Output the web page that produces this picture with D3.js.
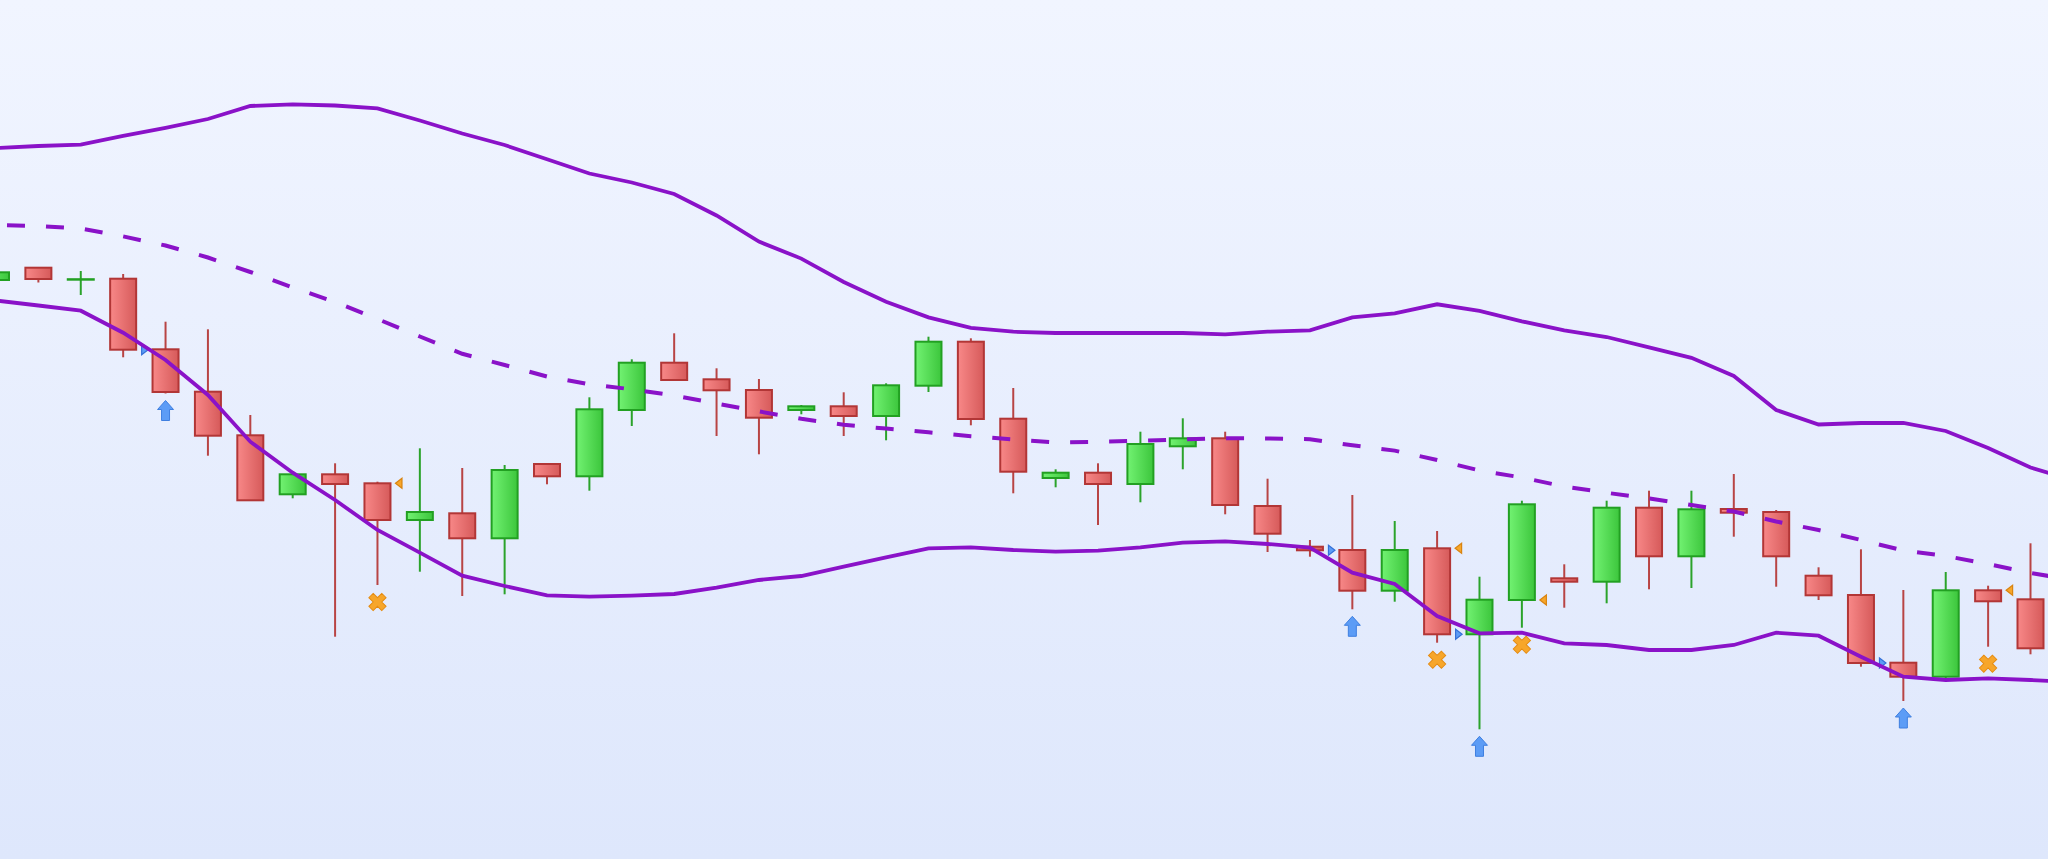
<!DOCTYPE html>
<html>
<head>
<meta charset="utf-8">
<script src="https://cdnjs.cloudflare.com/ajax/libs/d3/7.8.5/d3.min.js"></script>
<style>
    html, body { margin: 0; padding: 0; overflow: hidden; }
    svg { display: block; }
</style>
</head>
<body>
<div id="chart"></div>
<script>

            // OHLC, one entry per session
            var opens  = [122.00, 123.23, 122.04, 122.13, 115.07, 110.83, 106.47, 100.57, 102.57, 101.67,
                          98.00, 98.67, 96.17, 103.60, 102.37, 109.00, 113.73, 112.07, 111.00, 109.00,
                          109.37, 108.40, 111.43, 115.83, 108.13, 102.20, 102.73, 101.60, 105.37, 106.17,
                          99.40, 95.33, 95.00, 90.93, 95.17, 86.57, 90.00, 92.17, 91.83, 99.23,
                          94.37, 99.10, 98.80, 92.43, 90.50, 83.73, 82.33, 90.97, 90.07];
            var highs  = [122.80, 123.25, 122.90, 122.60, 117.83, 117.07, 108.50, 102.60, 103.67, 101.83,
                          105.17, 103.20, 103.50, 103.65, 110.27, 114.07, 116.67, 113.17, 112.10, 109.50,
                          110.77, 111.67, 116.33, 116.17, 111.20, 103.07, 103.67, 106.83, 108.17, 106.83,
                          102.13, 96.00, 100.50, 97.90, 96.90, 92.33, 99.93, 93.57, 99.93, 100.93,
                          100.93, 102.60, 99.00, 93.27, 95.07, 91.00, 92.80, 91.43, 95.67];
            var lows   = [121.90, 121.75, 120.50, 114.27, 110.65, 104.43, 99.90, 100.17, 86.33, 91.50,
                          92.83, 90.40, 90.57, 101.57, 100.93, 107.40, 111.95, 106.40, 104.57, 108.57,
                          106.40, 105.97, 110.80, 107.47, 100.67, 101.27, 97.50, 99.77, 103.07, 98.57,
                          94.80, 94.33, 89.07, 89.83, 85.73, 77.07, 87.23, 89.23, 89.67, 91.07,
                          91.20, 96.33, 91.33, 90.00, 83.33, 79.90, 82.00, 85.33, 84.57];
            var closes = [122.77, 122.10, 122.08, 115.03, 110.80, 106.43, 99.97, 102.57, 101.60, 98.00,
                          98.80, 96.17, 103.00, 102.37, 109.07, 113.73, 112.00, 110.97, 108.23, 109.37,
                          108.40, 111.47, 115.83, 108.10, 102.83, 102.73, 101.60, 105.60, 106.17, 99.50,
                          96.63, 94.97, 90.93, 95.00, 86.57, 90.03, 99.57, 91.83, 99.23, 94.37,
                          99.07, 98.73, 94.37, 90.47, 83.70, 82.33, 90.97, 89.87, 85.17];

            // Bollinger bands (one more point than candles, runs past the right edge)
            var upperBand  = [135.20, 135.40, 135.53, 136.42, 137.22, 138.10, 139.40, 139.57, 139.45, 139.16,
                              137.95, 136.65, 135.50, 134.07, 132.65, 131.75, 130.60, 128.45, 125.84, 124.14,
                              121.80, 119.83, 118.26, 117.22, 116.83, 116.70, 116.70, 116.70, 116.70, 116.57,
                              116.83, 116.96, 118.26, 118.66, 119.57, 118.92, 117.87, 116.96, 116.30, 115.26,
                              114.22, 112.40, 109.00, 107.55, 107.70, 107.70, 106.90, 105.20, 103.25, 102.00];
            var middleBand = [127.50, 127.40, 127.15, 126.36, 125.45, 124.25, 122.80, 121.25, 119.80, 118.10,
                              116.35, 114.62, 113.50, 112.35, 111.57, 111.07, 110.45, 109.65, 108.86, 108.12,
                              107.52, 107.14, 106.77, 106.38, 106.05, 105.75, 105.82, 105.92, 106.05, 106.18,
                              106.15, 106.08, 105.47, 104.94, 104.00, 102.95, 102.25, 101.35, 100.72, 100.15,
                              99.50, 98.85, 97.85, 97.00, 96.00, 94.95, 94.40, 93.60, 92.70, 92.00];
            var lowerBand  = [119.95, 119.45, 118.93, 116.73, 114.00, 110.50, 105.83, 102.73, 100.00, 97.00,
                              94.73, 92.43, 91.40, 90.47, 90.33, 90.43, 90.60, 91.23, 92.00, 92.40,
                              93.33, 94.27, 95.17, 95.27, 95.00, 94.83, 94.93, 95.27, 95.73, 95.87,
                              95.60, 95.23, 92.73, 91.60, 88.40, 86.67, 86.73, 85.67, 85.50, 85.00,
                              85.00, 85.50, 86.73, 86.43, 84.33, 82.33, 82.00, 82.17, 82.00, 81.80];

            // signal markers, by candle index
            var buyArrows     = [4, 32, 35, 45];
            var sellCrosses   = [9, 34, 36, 47];
            var closeTriangles = [3, 31, 34, 44];
            var openTriangles  = [9, 34, 36, 47];

            var width = 2048, height = 859;
            var barWidth = 26;

            var candles = opens.map(function(o, i) {
                return {i: i, open: o, high: highs[i], low: lows[i], close: closes[i]};
            });

            var x = d3.scaleLinear().domain([0, 48]).range([-4, 2030.5]);
            var y = d3.scaleLinear().domain([60, 150]).range([900, 0]);

            var svg = d3.select("#chart").append("svg")
                        .attr("width", width)
                        .attr("height", height);

            var defs = svg.append("defs");

            var bg = defs.append("linearGradient")
                        .attr("id", "bgGrad")
                        .attr("x1", 0).attr("y1", 0).attr("x2", 0).attr("y2", 1);
            bg.append("stop").attr("offset", "0%").attr("stop-color", "#f1f5ff");
            bg.append("stop").attr("offset", "100%").attr("stop-color", "#dee7fc");

            function bodyGradient(id, c1, c2) {
                var g = defs.append("linearGradient")
                            .attr("id", id)
                            .attr("x1", 0).attr("y1", 0).attr("x2", 1).attr("y2", 0);
                g.append("stop").attr("offset", "0%").attr("stop-color", c1);
                g.append("stop").attr("offset", "100%").attr("stop-color", c2);
            }
            bodyGradient("upGrad", "#72f272", "#3cc63c");
            bodyGradient("downGrad", "#f88888", "#d65a5a");

            svg.append("rect")
                .attr("width", width)
                .attr("height", height)
                .style("fill", "url(#bgGrad)");

            function isUp(d) { return d.close >= d.open; }

            var candle = svg.append("g").attr("class", "candles")
                            .selectAll("g")
                            .data(candles)
                            .enter().append("g");

            // wicks
            candle.append("line")
                    .attr("x1", function(d) { return x(d.i); })
                    .attr("x2", function(d) { return x(d.i); })
                    .attr("y1", function(d) { return y(d.high); })
                    .attr("y2", function(d) { return y(d.low); })
                    .style("stroke", function(d) { return isUp(d) ? "#2ba32b" : "#b84444"; })
                    .style("stroke-width", 2);

            // bodies
            candle.append("rect")
                    .attr("x", function(d) { return x(d.i) - barWidth / 2; })
                    .attr("y", function(d) { return y(Math.max(d.open, d.close)); })
                    .attr("width", barWidth)
                    .attr("height", function(d) {
                        return Math.max(0.5, Math.abs(y(d.open) - y(d.close)));
                    })
                    .style("fill", function(d) { return isUp(d) ? "url(#upGrad)" : "url(#downGrad)"; })
                    .style("stroke", function(d) { return isUp(d) ? "#22a022" : "#b23636"; })
                    .style("stroke-width", 2);

            var markers = svg.append("g").attr("class", "markers");

            // blue arrows under the low
            markers.selectAll("path.arrow")
                    .data(buyArrows)
                    .enter().append("path")
                    .attr("class", "arrow")
                    .attr("transform", function(i) { return "translate(" + x(i) + "," + (y(lows[i]) + 7) + ")"; })
                    .attr("d", "M0,0L8,9L4,9L4,20L-4,20L-4,9L-8,9Z")
                    .style("fill", "#5c9cf6")
                    .style("stroke", "#3f7fe0")
                    .style("stroke-width", 1);

            // orange crosses under the low
            markers.selectAll("path.cross")
                    .data(sellCrosses)
                    .enter().append("path")
                    .attr("class", "cross")
                    .attr("transform", function(i) { return "translate(" + x(i) + "," + (y(lows[i]) + 17) + ") rotate(45)"; })
                    .attr("d", d3.symbol().type(d3.symbolCross).size(185))
                    .style("fill", "#f7a62a")
                    .style("stroke", "#e58c12")
                    .style("stroke-width", 1);

            // small triangles beside the candle: blue at close, orange at open
            markers.selectAll("path.closeTri")
                    .data(closeTriangles)
                    .enter().append("path")
                    .attr("class", "closeTri")
                    .attr("transform", function(i) { return "translate(" + (x(i) + 21.5) + "," + y(closes[i]) + ")"; })
                    .attr("d", "M3.5,0L-3,-5L-3,5Z")
                    .style("fill", "#5c9cf6")
                    .style("stroke", "#3470d8")
                    .style("stroke-width", 1.2);

            markers.selectAll("path.openTri")
                    .data(openTriangles)
                    .enter().append("path")
                    .attr("class", "openTri")
                    .attr("transform", function(i) { return "translate(" + (x(i) + 21.5) + "," + y(opens[i]) + ")"; })
                    .attr("d", "M-3.5,0L3,-5L3,5Z")
                    .style("fill", "#f7a62a")
                    .style("stroke", "#d98410")
                    .style("stroke-width", 1.2);

            // bands on top
            var bandLine = d3.line()
                            .x(function(d, i) { return x(i); })
                            .y(function(d) { return y(d); });

            var bands = svg.append("g").attr("class", "bands");

            bands.append("path")
                    .attr("d", bandLine(upperBand))
                    .style("fill", "none")
                    .style("stroke", "#8a12c8")
                    .style("stroke-width", 3.8);

            bands.append("path")
                    .attr("d", bandLine(middleBand))
                    .style("fill", "none")
                    .style("stroke", "#8a12c8")
                    .style("stroke-width", 4)
                    .style("stroke-dasharray", "18,21")
                    .style("stroke-dashoffset", 28);

            bands.append("path")
                    .attr("d", bandLine(lowerBand))
                    .style("fill", "none")
                    .style("stroke", "#8a12c8")
                    .style("stroke-width", 3.8);

</script>
</body>
</html>
